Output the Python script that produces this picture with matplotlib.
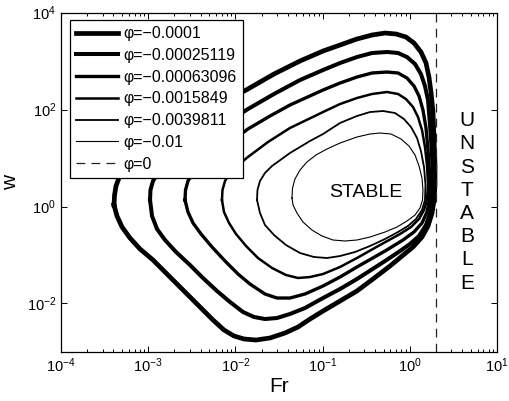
import numpy as np
import matplotlib
matplotlib.use('Agg')
import matplotlib.pyplot as plt
from matplotlib.ticker import NullLocator, FixedLocator, LogLocator

plt.rcParams['font.family'] = ['Liberation Sans', 'DejaVu Sans']
plt.rcParams['mathtext.fontset'] = 'custom'
plt.rcParams['mathtext.rm'] = 'Liberation Sans'
plt.rcParams['mathtext.it'] = 'Liberation Sans:italic'

# curve levels (legend) and line weights
phi_labels = ['φ=−0.0001', 'φ=−0.00025119', 'φ=−0.00063096',
              'φ=−0.0015849', 'φ=−0.0039811', 'φ=−0.01']
line_w = [3.4, 2.9, 2.4, 1.8, 1.3, 0.8]

# closed stability contours as log10(Fr), log10(w)
c1_lfr = [-3.392, -3.386, -3.369, -3.335, -3.278, -3.186, -2.979, -2.635, -2.234, -1.856,
          -1.557, -1.259, -0.995, -0.800, -0.606, -0.433, -0.284, -0.158, -0.044, 0.048,
          0.128, 0.186, 0.220, 0.243, 0.266, 0.278, 0.289, 0.289, 0.278, 0.255,
          0.209, 0.140, 0.037, -0.089, -0.227, -0.422, -0.606, -0.800, -0.995, -1.144,
          -1.282, -1.431, -1.603, -1.764, -1.901, -2.016, -2.131, -2.257, -2.406, -2.555,
          -2.750, -2.945, -3.094, -3.209, -3.300, -3.358, -3.392]
c1_lw = [0.031, 0.237, 0.423, 0.588, 0.753, 0.918, 1.227, 1.639, 2.052, 2.423,
         2.732, 3.000, 3.206, 3.330, 3.454, 3.536, 3.577, 3.557, 3.495, 3.371,
         3.186, 2.959, 2.670, 2.361, 1.948, 1.371, 0.856, 0.443, 0.134, -0.134,
         -0.402, -0.629, -0.835, -1.021, -1.227, -1.495, -1.742, -1.948, -2.155, -2.320,
         -2.485, -2.608, -2.711, -2.753, -2.732, -2.670, -2.546, -2.340, -2.072, -1.804,
         -1.454, -1.103, -0.876, -0.649, -0.423, -0.196, 0.031]

c2_lfr = [-2.979, -2.974, -2.945, -2.888, -2.796, -2.578, -2.234, -1.856, -1.557, -1.259,
          -0.995, -0.800, -0.606, -0.433, -0.261, -0.135, -0.032, 0.060, 0.128, 0.174,
          0.209, 0.232, 0.255, 0.266, 0.255, 0.232, 0.186, 0.106, 0.002, -0.112,
          -0.284, -0.606, -0.800, -0.995, -1.202, -1.374, -1.523, -1.661, -1.787, -1.913,
          -2.062, -2.211, -2.372, -2.521, -2.681, -2.807, -2.899, -2.956, -2.979]
c2_lw = [0.134, 0.340, 0.526, 0.691, 0.856, 1.165, 1.577, 2.010, 2.320, 2.608,
         2.814, 2.959, 3.082, 3.165, 3.186, 3.165, 3.082, 2.938, 2.732, 2.485,
         2.196, 1.680, 1.062, 0.546, 0.134, -0.134, -0.381, -0.608, -0.773, -0.918,
         -1.124, -1.495, -1.701, -1.887, -2.093, -2.216, -2.299, -2.320, -2.278, -2.175,
         -1.969, -1.742, -1.474, -1.206, -0.938, -0.691, -0.464, -0.196, 0.134]

c3_lfr = [-2.578, -2.572, -2.544, -2.486, -2.406, -2.177, -1.856, -1.603, -1.374, -0.995,
          -0.800, -0.606, -0.433, -0.261, -0.135, -0.032, 0.048, 0.106, 0.151, 0.186,
          0.209, 0.232, 0.226, 0.197, 0.140, 0.048, -0.078, -0.284, -0.606, -0.800,
          -0.995, -1.202, -1.374, -1.523, -1.661, -1.833, -1.970, -2.119, -2.268, -2.394,
          -2.486, -2.544, -2.578]
c3_lw = [0.134, 0.340, 0.526, 0.691, 0.835, 1.165, 1.598, 1.866, 2.093, 2.402,
         2.546, 2.670, 2.753, 2.773, 2.753, 2.649, 2.485, 2.278, 1.990, 1.619,
         1.165, 0.546, 0.134, -0.113, -0.340, -0.526, -0.691, -0.918, -1.247, -1.454,
         -1.639, -1.804, -1.887, -1.887, -1.804, -1.598, -1.392, -1.124, -0.835, -0.567,
         -0.340, -0.113, 0.134]

c4_lfr = [-2.154, -2.148, -2.119, -2.062, -1.982, -1.856, -1.626, -1.374, -0.995, -0.800,
          -0.606, -0.433, -0.261, -0.135, -0.044, 0.037, 0.094, 0.140, 0.174, 0.197,
          0.209, 0.197, 0.163, 0.106, 0.014, -0.112, -0.342, -0.606, -0.800, -0.995,
          -1.144, -1.282, -1.420, -1.580, -1.741, -1.878, -1.993, -2.073, -2.131, -2.154]
c4_lw = [0.134, 0.340, 0.526, 0.691, 0.835, 1.021, 1.330, 1.619, 1.948, 2.113,
         2.237, 2.320, 2.361, 2.320, 2.216, 2.052, 1.845, 1.577, 1.227, 0.856,
         0.443, 0.134, -0.072, -0.258, -0.423, -0.567, -0.794, -1.062, -1.247, -1.392,
         -1.454, -1.474, -1.412, -1.268, -1.062, -0.814, -0.567, -0.340, -0.113, 0.134]

c5_lfr = [-1.752, -1.747, -1.718, -1.661, -1.580, -1.374, -1.144, -0.995, -0.800, -0.606,
          -0.456, -0.307, -0.170, -0.067, 0.014, 0.083, 0.128, 0.163, 0.180, 0.174,
          0.140, 0.071, -0.021, -0.135, -0.284, -0.456, -0.628, -0.800, -0.950, -1.099,
          -1.259, -1.420, -1.557, -1.661, -1.718, -1.752]
c5_lw = [0.134, 0.340, 0.526, 0.691, 0.835, 1.103, 1.351, 1.495, 1.722, 1.866,
         1.948, 1.969, 1.928, 1.804, 1.639, 1.412, 1.144, 0.814, 0.443, 0.134,
         -0.072, -0.258, -0.402, -0.526, -0.670, -0.814, -0.938, -1.021, -1.062, -1.041,
         -0.959, -0.794, -0.588, -0.381, -0.134, 0.134]

c6_lfr = [-1.351, -1.345, -1.317, -1.259, -1.179, -1.076, -0.950, -0.800, -0.606, -0.456,
          -0.342, -0.216, -0.101, -0.009, 0.060, 0.106, 0.140, 0.151, 0.146, 0.117,
          0.060, -0.032, -0.147, -0.284, -0.456, -0.606, -0.743, -0.881, -1.007, -1.122,
          -1.225, -1.294, -1.339, -1.351]
c6_lw = [0.175, 0.381, 0.567, 0.753, 0.918, 1.062, 1.186, 1.309, 1.433, 1.495,
         1.515, 1.495, 1.392, 1.247, 1.062, 0.835, 0.588, 0.340, 0.134, -0.031,
         -0.175, -0.299, -0.423, -0.526, -0.629, -0.691, -0.711, -0.691, -0.608, -0.485,
         -0.320, -0.134, 0.031, 0.175]

curves = [(c1_lfr, c1_lw), (c2_lfr, c2_lw), (c3_lfr, c3_lw),
          (c4_lfr, c4_lw), (c5_lfr, c5_lw), (c6_lfr, c6_lw)]

fr_neutral = 2.0   # phi = 0 boundary

fig = plt.figure(figsize=(5.1, 4.01), dpi=100)
ax = fig.add_axes([0.1196, 0.1222, 0.8549, 0.8466])

for (lfr, lw_), lab, w in zip(curves, phi_labels, line_w):
    ax.plot(10 ** np.array(lfr), 10 ** np.array(lw_), color='black',
            linewidth=w, label=lab, solid_joinstyle='round')

ax.axvline(fr_neutral, color='#222222', linewidth=0.9, linestyle=(0, (7, 5)),
           label='φ=0')

ax.set_xscale('log')
ax.set_yscale('log')
ax.set_xlim(1e-4, 1e1)
ax.set_ylim(1e-3, 1e4)
ax.yaxis.set_major_locator(FixedLocator([1e-2, 1e0, 1e2, 1e4]))
ax.yaxis.set_minor_locator(NullLocator())
ax.xaxis.set_minor_locator(LogLocator(base=10, subs=np.arange(2, 10), numticks=20))

ax.tick_params(which='both', direction='in', top=True, right=True, labelsize=10.5,
               width=0.7)
ax.tick_params(which='major', length=4)
ax.tick_params(which='minor', length=2)
for sp in ax.spines.values():
    sp.set_linewidth(0.9)

ax.set_xlabel('Fr', fontsize=15, labelpad=1)
ax.set_ylabel('w', fontsize=15, labelpad=5)

ax.text(0.31, 1.95, 'STABLE', fontsize=14, ha='center', va='center')
ax.text(4.5, 1.24, '\n'.join('UNSTABLE'), fontsize=15, ha='center', va='center',
        linespacing=1.28)

leg = ax.legend(loc='upper left', bbox_to_anchor=(0.02, 0.978), borderaxespad=0,
                fontsize=11.5, handlelength=2.6, handletextpad=0.35,
                labelspacing=0.42, borderpad=0.4, fancybox=False,
                framealpha=1, edgecolor='black')
leg.get_frame().set_linewidth(0.9)

fig.savefig('out.png', dpi=100)
